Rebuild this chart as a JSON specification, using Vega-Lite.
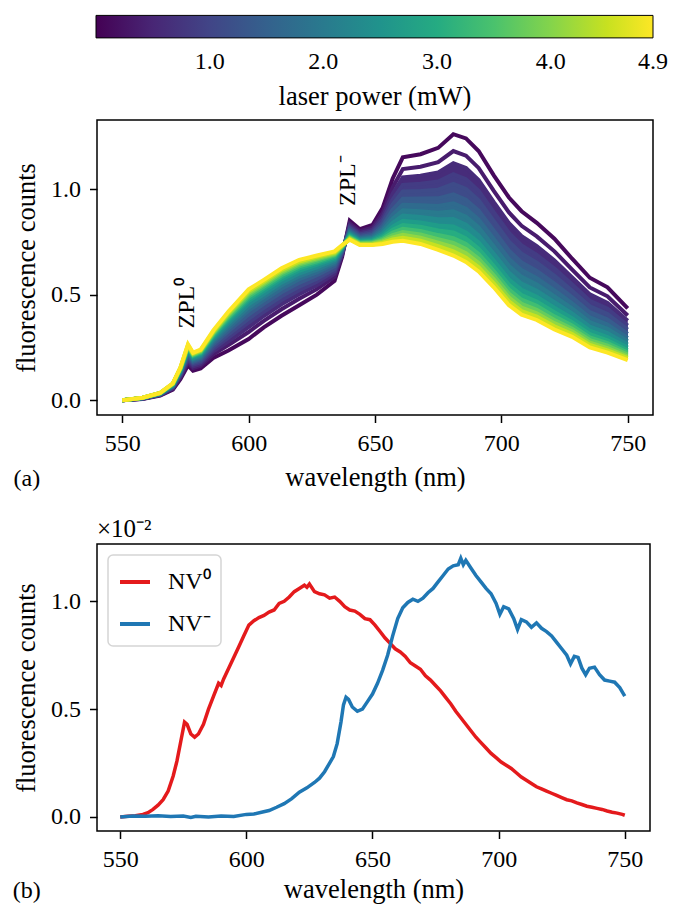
{
"$schema": "https://vega.github.io/schema/vega-lite/v6.json",
"background": "white",
"padding": {"left": 12, "top": 14, "right": 12, "bottom": 0},
"spacing": 24,
"title": {"text": "(b)", "orient": "bottom", "anchor": "start", "frame": "bounds", "offset": -25},
"resolve": {"scale": {"x": "independent", "y": "independent", "color": "independent", "fill": "independent", "stroke": "independent"}},
"vconcat": [
{
"width": 556, "height": 295,
"title": {"text": "(a)", "orient": "bottom", "anchor": "start", "frame": "bounds", "offset": -24},
"data": {"values": [
{"p":0.1,"w":550,"v":0},{"p":0.1,"w":558,"v":0.006},{"p":0.1,"w":565,"v":0.022},{"p":0.1,"w":570,"v":0.05},{"p":0.1,"w":573,"v":0.1},{"p":0.1,"w":576,"v":0.165},{"p":0.1,"w":578,"v":0.14},{"p":0.1,"w":581,"v":0.15},{"p":0.1,"w":586,"v":0.2},{"p":0.1,"w":592,"v":0.235},{"p":0.1,"w":600,"v":0.29},{"p":0.1,"w":606,"v":0.345},{"p":0.1,"w":613,"v":0.4},{"p":0.1,"w":620,"v":0.45},{"p":0.1,"w":627,"v":0.5},{"p":0.1,"w":634,"v":0.565},{"p":0.1,"w":637,"v":0.68},{"p":0.1,"w":640,"v":0.85},{"p":0.1,"w":644,"v":0.81},{"p":0.1,"w":649,"v":0.83},{"p":0.1,"w":653,"v":0.91},{"p":0.1,"w":657,"v":1.05},{"p":0.1,"w":661,"v":1.15},{"p":0.1,"w":668,"v":1.165},{"p":0.1,"w":675,"v":1.195},{"p":0.1,"w":681,"v":1.26},{"p":0.1,"w":686,"v":1.24},{"p":0.1,"w":691,"v":1.18},{"p":0.1,"w":697,"v":1.065},{"p":0.1,"w":703,"v":0.96},{"p":0.1,"w":708,"v":0.895},{"p":0.1,"w":714,"v":0.84},{"p":0.1,"w":721,"v":0.765},{"p":0.1,"w":728,"v":0.67},{"p":0.1,"w":735,"v":0.58},{"p":0.1,"w":742,"v":0.535},{"p":0.1,"w":750,"v":0.435},
{"p":0.35,"w":550,"v":0},{"p":0.35,"w":558,"v":0.007},{"p":0.35,"w":565,"v":0.024},{"p":0.35,"w":570,"v":0.054},{"p":0.35,"w":573,"v":0.108},{"p":0.35,"w":576,"v":0.179},{"p":0.35,"w":578,"v":0.152},{"p":0.35,"w":581,"v":0.163},{"p":0.35,"w":586,"v":0.218},{"p":0.35,"w":592,"v":0.261},{"p":0.35,"w":600,"v":0.323},{"p":0.35,"w":606,"v":0.376},{"p":0.35,"w":613,"v":0.431},{"p":0.35,"w":620,"v":0.48},{"p":0.35,"w":627,"v":0.526},{"p":0.35,"w":634,"v":0.585},{"p":0.35,"w":637,"v":0.688},{"p":0.35,"w":640,"v":0.837},{"p":0.35,"w":644,"v":0.8},{"p":0.35,"w":649,"v":0.817},{"p":0.35,"w":653,"v":0.886},{"p":0.35,"w":657,"v":1.008},{"p":0.35,"w":661,"v":1.095},{"p":0.35,"w":668,"v":1.106},{"p":0.35,"w":675,"v":1.127},{"p":0.35,"w":681,"v":1.18},{"p":0.35,"w":686,"v":1.158},{"p":0.35,"w":691,"v":1.1},{"p":0.35,"w":697,"v":0.991},{"p":0.35,"w":703,"v":0.889},{"p":0.35,"w":708,"v":0.826},{"p":0.35,"w":714,"v":0.776},{"p":0.35,"w":721,"v":0.705},{"p":0.35,"w":728,"v":0.618},{"p":0.35,"w":735,"v":0.534},{"p":0.35,"w":742,"v":0.492},{"p":0.35,"w":750,"v":0.401},
{"p":0.6,"w":550,"v":0},{"p":0.6,"w":558,"v":0.007},{"p":0.6,"w":565,"v":0.025},{"p":0.6,"w":570,"v":0.057},{"p":0.6,"w":573,"v":0.113},{"p":0.6,"w":576,"v":0.189},{"p":0.6,"w":578,"v":0.16},{"p":0.6,"w":581,"v":0.172},{"p":0.6,"w":586,"v":0.231},{"p":0.6,"w":592,"v":0.279},{"p":0.6,"w":600,"v":0.346},{"p":0.6,"w":606,"v":0.399},{"p":0.6,"w":613,"v":0.454},{"p":0.6,"w":620,"v":0.502},{"p":0.6,"w":627,"v":0.544},{"p":0.6,"w":634,"v":0.599},{"p":0.6,"w":637,"v":0.693},{"p":0.6,"w":640,"v":0.828},{"p":0.6,"w":644,"v":0.792},{"p":0.6,"w":649,"v":0.807},{"p":0.6,"w":653,"v":0.869},{"p":0.6,"w":657,"v":0.978},{"p":0.6,"w":661,"v":1.055},{"p":0.6,"w":668,"v":1.063},{"p":0.6,"w":675,"v":1.079},{"p":0.6,"w":681,"v":1.122},{"p":0.6,"w":686,"v":1.1},{"p":0.6,"w":691,"v":1.043},{"p":0.6,"w":697,"v":0.938},{"p":0.6,"w":703,"v":0.838},{"p":0.6,"w":708,"v":0.777},{"p":0.6,"w":714,"v":0.73},{"p":0.6,"w":721,"v":0.662},{"p":0.6,"w":728,"v":0.581},{"p":0.6,"w":735,"v":0.501},{"p":0.6,"w":742,"v":0.461},{"p":0.6,"w":750,"v":0.376},
{"p":0.85,"w":550,"v":0},{"p":0.85,"w":558,"v":0.008},{"p":0.85,"w":565,"v":0.026},{"p":0.85,"w":570,"v":0.06},{"p":0.85,"w":573,"v":0.118},{"p":0.85,"w":576,"v":0.198},{"p":0.85,"w":578,"v":0.168},{"p":0.85,"w":581,"v":0.18},{"p":0.85,"w":586,"v":0.243},{"p":0.85,"w":592,"v":0.296},{"p":0.85,"w":600,"v":0.368},{"p":0.85,"w":606,"v":0.419},{"p":0.85,"w":613,"v":0.474},{"p":0.85,"w":620,"v":0.521},{"p":0.85,"w":627,"v":0.561},{"p":0.85,"w":634,"v":0.611},{"p":0.85,"w":637,"v":0.698},{"p":0.85,"w":640,"v":0.82},{"p":0.85,"w":644,"v":0.785},{"p":0.85,"w":649,"v":0.799},{"p":0.85,"w":653,"v":0.854},{"p":0.85,"w":657,"v":0.951},{"p":0.85,"w":661,"v":1.02},{"p":0.85,"w":668,"v":1.025},{"p":0.85,"w":675,"v":1.036},{"p":0.85,"w":681,"v":1.07},{"p":0.85,"w":686,"v":1.047},{"p":0.85,"w":691,"v":0.992},{"p":0.85,"w":697,"v":0.89},{"p":0.85,"w":703,"v":0.792},{"p":0.85,"w":708,"v":0.733},{"p":0.85,"w":714,"v":0.688},{"p":0.85,"w":721,"v":0.623},{"p":0.85,"w":728,"v":0.548},{"p":0.85,"w":735,"v":0.471},{"p":0.85,"w":742,"v":0.433},{"p":0.85,"w":750,"v":0.354},
{"p":1.1,"w":550,"v":0},{"p":1.1,"w":558,"v":0.008},{"p":1.1,"w":565,"v":0.027},{"p":1.1,"w":570,"v":0.062},{"p":1.1,"w":573,"v":0.123},{"p":1.1,"w":576,"v":0.206},{"p":1.1,"w":578,"v":0.175},{"p":1.1,"w":581,"v":0.187},{"p":1.1,"w":586,"v":0.253},{"p":1.1,"w":592,"v":0.311},{"p":1.1,"w":600,"v":0.386},{"p":1.1,"w":606,"v":0.437},{"p":1.1,"w":613,"v":0.492},{"p":1.1,"w":620,"v":0.538},{"p":1.1,"w":627,"v":0.576},{"p":1.1,"w":634,"v":0.622},{"p":1.1,"w":637,"v":0.703},{"p":1.1,"w":640,"v":0.813},{"p":1.1,"w":644,"v":0.779},{"p":1.1,"w":649,"v":0.791},{"p":1.1,"w":653,"v":0.84},{"p":1.1,"w":657,"v":0.927},{"p":1.1,"w":661,"v":0.988},{"p":1.1,"w":668,"v":0.991},{"p":1.1,"w":675,"v":0.997},{"p":1.1,"w":681,"v":1.024},{"p":1.1,"w":686,"v":1.0},{"p":1.1,"w":691,"v":0.946},{"p":1.1,"w":697,"v":0.848},{"p":1.1,"w":703,"v":0.751},{"p":1.1,"w":708,"v":0.694},{"p":1.1,"w":714,"v":0.651},{"p":1.1,"w":721,"v":0.589},{"p":1.1,"w":728,"v":0.518},{"p":1.1,"w":735,"v":0.445},{"p":1.1,"w":742,"v":0.408},{"p":1.1,"w":750,"v":0.335},
{"p":1.4,"w":550,"v":0},{"p":1.4,"w":558,"v":0.009},{"p":1.4,"w":565,"v":0.028},{"p":1.4,"w":570,"v":0.065},{"p":1.4,"w":573,"v":0.127},{"p":1.4,"w":576,"v":0.214},{"p":1.4,"w":578,"v":0.182},{"p":1.4,"w":581,"v":0.195},{"p":1.4,"w":586,"v":0.264},{"p":1.4,"w":592,"v":0.327},{"p":1.4,"w":600,"v":0.406},{"p":1.4,"w":606,"v":0.456},{"p":1.4,"w":613,"v":0.511},{"p":1.4,"w":620,"v":0.556},{"p":1.4,"w":627,"v":0.592},{"p":1.4,"w":634,"v":0.634},{"p":1.4,"w":637,"v":0.707},{"p":1.4,"w":640,"v":0.805},{"p":1.4,"w":644,"v":0.773},{"p":1.4,"w":649,"v":0.783},{"p":1.4,"w":653,"v":0.826},{"p":1.4,"w":657,"v":0.902},{"p":1.4,"w":661,"v":0.954},{"p":1.4,"w":668,"v":0.955},{"p":1.4,"w":675,"v":0.956},{"p":1.4,"w":681,"v":0.975},{"p":1.4,"w":686,"v":0.95},{"p":1.4,"w":691,"v":0.898},{"p":1.4,"w":697,"v":0.803},{"p":1.4,"w":703,"v":0.708},{"p":1.4,"w":708,"v":0.652},{"p":1.4,"w":714,"v":0.612},{"p":1.4,"w":721,"v":0.552},{"p":1.4,"w":728,"v":0.487},{"p":1.4,"w":735,"v":0.417},{"p":1.4,"w":742,"v":0.382},{"p":1.4,"w":750,"v":0.314},
{"p":1.7,"w":550,"v":0},{"p":1.7,"w":558,"v":0.009},{"p":1.7,"w":565,"v":0.029},{"p":1.7,"w":570,"v":0.067},{"p":1.7,"w":573,"v":0.131},{"p":1.7,"w":576,"v":0.222},{"p":1.7,"w":578,"v":0.188},{"p":1.7,"w":581,"v":0.201},{"p":1.7,"w":586,"v":0.274},{"p":1.7,"w":592,"v":0.34},{"p":1.7,"w":600,"v":0.424},{"p":1.7,"w":606,"v":0.473},{"p":1.7,"w":613,"v":0.528},{"p":1.7,"w":620,"v":0.573},{"p":1.7,"w":627,"v":0.605},{"p":1.7,"w":634,"v":0.645},{"p":1.7,"w":637,"v":0.711},{"p":1.7,"w":640,"v":0.799},{"p":1.7,"w":644,"v":0.767},{"p":1.7,"w":649,"v":0.776},{"p":1.7,"w":653,"v":0.813},{"p":1.7,"w":657,"v":0.879},{"p":1.7,"w":661,"v":0.925},{"p":1.7,"w":668,"v":0.923},{"p":1.7,"w":675,"v":0.92},{"p":1.7,"w":681,"v":0.932},{"p":1.7,"w":686,"v":0.907},{"p":1.7,"w":691,"v":0.855},{"p":1.7,"w":697,"v":0.763},{"p":1.7,"w":703,"v":0.669},{"p":1.7,"w":708,"v":0.616},{"p":1.7,"w":714,"v":0.578},{"p":1.7,"w":721,"v":0.52},{"p":1.7,"w":728,"v":0.459},{"p":1.7,"w":735,"v":0.392},{"p":1.7,"w":742,"v":0.358},{"p":1.7,"w":750,"v":0.295},
{"p":2.0,"w":550,"v":0},{"p":2.0,"w":558,"v":0.01},{"p":2.0,"w":565,"v":0.03},{"p":2.0,"w":570,"v":0.069},{"p":2.0,"w":573,"v":0.135},{"p":2.0,"w":576,"v":0.228},{"p":2.0,"w":578,"v":0.194},{"p":2.0,"w":581,"v":0.207},{"p":2.0,"w":586,"v":0.283},{"p":2.0,"w":592,"v":0.352},{"p":2.0,"w":600,"v":0.439},{"p":2.0,"w":606,"v":0.488},{"p":2.0,"w":613,"v":0.543},{"p":2.0,"w":620,"v":0.587},{"p":2.0,"w":627,"v":0.617},{"p":2.0,"w":634,"v":0.654},{"p":2.0,"w":637,"v":0.715},{"p":2.0,"w":640,"v":0.793},{"p":2.0,"w":644,"v":0.762},{"p":2.0,"w":649,"v":0.77},{"p":2.0,"w":653,"v":0.802},{"p":2.0,"w":657,"v":0.86},{"p":2.0,"w":661,"v":0.899},{"p":2.0,"w":668,"v":0.895},{"p":2.0,"w":675,"v":0.888},{"p":2.0,"w":681,"v":0.895},{"p":2.0,"w":686,"v":0.869},{"p":2.0,"w":691,"v":0.818},{"p":2.0,"w":697,"v":0.728},{"p":2.0,"w":703,"v":0.636},{"p":2.0,"w":708,"v":0.584},{"p":2.0,"w":714,"v":0.548},{"p":2.0,"w":721,"v":0.492},{"p":2.0,"w":728,"v":0.435},{"p":2.0,"w":735,"v":0.37},{"p":2.0,"w":742,"v":0.338},{"p":2.0,"w":750,"v":0.279},
{"p":2.35,"w":550,"v":0},{"p":2.35,"w":558,"v":0.01},{"p":2.35,"w":565,"v":0.031},{"p":2.35,"w":570,"v":0.071},{"p":2.35,"w":573,"v":0.138},{"p":2.35,"w":576,"v":0.235},{"p":2.35,"w":578,"v":0.199},{"p":2.35,"w":581,"v":0.213},{"p":2.35,"w":586,"v":0.291},{"p":2.35,"w":592,"v":0.364},{"p":2.35,"w":600,"v":0.454},{"p":2.35,"w":606,"v":0.502},{"p":2.35,"w":613,"v":0.557},{"p":2.35,"w":620,"v":0.6},{"p":2.35,"w":627,"v":0.629},{"p":2.35,"w":634,"v":0.663},{"p":2.35,"w":637,"v":0.718},{"p":2.35,"w":640,"v":0.787},{"p":2.35,"w":644,"v":0.758},{"p":2.35,"w":649,"v":0.764},{"p":2.35,"w":653,"v":0.791},{"p":2.35,"w":657,"v":0.84},{"p":2.35,"w":661,"v":0.874},{"p":2.35,"w":668,"v":0.868},{"p":2.35,"w":675,"v":0.857},{"p":2.35,"w":681,"v":0.858},{"p":2.35,"w":686,"v":0.831},{"p":2.35,"w":691,"v":0.781},{"p":2.35,"w":697,"v":0.694},{"p":2.35,"w":703,"v":0.603},{"p":2.35,"w":708,"v":0.552},{"p":2.35,"w":714,"v":0.518},{"p":2.35,"w":721,"v":0.464},{"p":2.35,"w":728,"v":0.411},{"p":2.35,"w":735,"v":0.349},{"p":2.35,"w":742,"v":0.318},{"p":2.35,"w":750,"v":0.264},
{"p":2.7,"w":550,"v":0},{"p":2.7,"w":558,"v":0.011},{"p":2.7,"w":565,"v":0.032},{"p":2.7,"w":570,"v":0.073},{"p":2.7,"w":573,"v":0.142},{"p":2.7,"w":576,"v":0.241},{"p":2.7,"w":578,"v":0.205},{"p":2.7,"w":581,"v":0.218},{"p":2.7,"w":586,"v":0.299},{"p":2.7,"w":592,"v":0.376},{"p":2.7,"w":600,"v":0.469},{"p":2.7,"w":606,"v":0.516},{"p":2.7,"w":613,"v":0.571},{"p":2.7,"w":620,"v":0.613},{"p":2.7,"w":627,"v":0.641},{"p":2.7,"w":634,"v":0.671},{"p":2.7,"w":637,"v":0.722},{"p":2.7,"w":640,"v":0.782},{"p":2.7,"w":644,"v":0.753},{"p":2.7,"w":649,"v":0.758},{"p":2.7,"w":653,"v":0.781},{"p":2.7,"w":657,"v":0.822},{"p":2.7,"w":661,"v":0.85},{"p":2.7,"w":668,"v":0.842},{"p":2.7,"w":675,"v":0.828},{"p":2.7,"w":681,"v":0.823},{"p":2.7,"w":686,"v":0.795},{"p":2.7,"w":691,"v":0.747},{"p":2.7,"w":697,"v":0.662},{"p":2.7,"w":703,"v":0.572},{"p":2.7,"w":708,"v":0.523},{"p":2.7,"w":714,"v":0.49},{"p":2.7,"w":721,"v":0.438},{"p":2.7,"w":728,"v":0.389},{"p":2.7,"w":735,"v":0.329},{"p":2.7,"w":742,"v":0.299},{"p":2.7,"w":750,"v":0.249},
{"p":3.05,"w":550,"v":0},{"p":3.05,"w":558,"v":0.011},{"p":3.05,"w":565,"v":0.033},{"p":3.05,"w":570,"v":0.074},{"p":3.05,"w":573,"v":0.145},{"p":3.05,"w":576,"v":0.246},{"p":3.05,"w":578,"v":0.209},{"p":3.05,"w":581,"v":0.223},{"p":3.05,"w":586,"v":0.305},{"p":3.05,"w":592,"v":0.385},{"p":3.05,"w":600,"v":0.48},{"p":3.05,"w":606,"v":0.527},{"p":3.05,"w":613,"v":0.582},{"p":3.05,"w":620,"v":0.624},{"p":3.05,"w":627,"v":0.65},{"p":3.05,"w":634,"v":0.678},{"p":3.05,"w":637,"v":0.725},{"p":3.05,"w":640,"v":0.777},{"p":3.05,"w":644,"v":0.749},{"p":3.05,"w":649,"v":0.753},{"p":3.05,"w":653,"v":0.772},{"p":3.05,"w":657,"v":0.807},{"p":3.05,"w":661,"v":0.83},{"p":3.05,"w":668,"v":0.821},{"p":3.05,"w":675,"v":0.804},{"p":3.05,"w":681,"v":0.794},{"p":3.05,"w":686,"v":0.766},{"p":3.05,"w":691,"v":0.718},{"p":3.05,"w":697,"v":0.636},{"p":3.05,"w":703,"v":0.547},{"p":3.05,"w":708,"v":0.498},{"p":3.05,"w":714,"v":0.467},{"p":3.05,"w":721,"v":0.417},{"p":3.05,"w":728,"v":0.37},{"p":3.05,"w":735,"v":0.313},{"p":3.05,"w":742,"v":0.284},{"p":3.05,"w":750,"v":0.237},
{"p":3.4,"w":550,"v":0},{"p":3.4,"w":558,"v":0.011},{"p":3.4,"w":565,"v":0.033},{"p":3.4,"w":570,"v":0.076},{"p":3.4,"w":573,"v":0.147},{"p":3.4,"w":576,"v":0.25},{"p":3.4,"w":578,"v":0.213},{"p":3.4,"w":581,"v":0.227},{"p":3.4,"w":586,"v":0.311},{"p":3.4,"w":592,"v":0.393},{"p":3.4,"w":600,"v":0.491},{"p":3.4,"w":606,"v":0.537},{"p":3.4,"w":613,"v":0.592},{"p":3.4,"w":620,"v":0.634},{"p":3.4,"w":627,"v":0.658},{"p":3.4,"w":634,"v":0.685},{"p":3.4,"w":637,"v":0.727},{"p":3.4,"w":640,"v":0.773},{"p":3.4,"w":644,"v":0.746},{"p":3.4,"w":649,"v":0.749},{"p":3.4,"w":653,"v":0.765},{"p":3.4,"w":657,"v":0.794},{"p":3.4,"w":661,"v":0.812},{"p":3.4,"w":668,"v":0.802},{"p":3.4,"w":675,"v":0.782},{"p":3.4,"w":681,"v":0.768},{"p":3.4,"w":686,"v":0.74},{"p":3.4,"w":691,"v":0.693},{"p":3.4,"w":697,"v":0.612},{"p":3.4,"w":703,"v":0.524},{"p":3.4,"w":708,"v":0.476},{"p":3.4,"w":714,"v":0.447},{"p":3.4,"w":721,"v":0.397},{"p":3.4,"w":728,"v":0.354},{"p":3.4,"w":735,"v":0.298},{"p":3.4,"w":742,"v":0.27},{"p":3.4,"w":750,"v":0.226},
{"p":3.75,"w":550,"v":0},{"p":3.75,"w":558,"v":0.011},{"p":3.75,"w":565,"v":0.034},{"p":3.75,"w":570,"v":0.077},{"p":3.75,"w":573,"v":0.149},{"p":3.75,"w":576,"v":0.254},{"p":3.75,"w":578,"v":0.216},{"p":3.75,"w":581,"v":0.231},{"p":3.75,"w":586,"v":0.316},{"p":3.75,"w":592,"v":0.401},{"p":3.75,"w":600,"v":0.5},{"p":3.75,"w":606,"v":0.546},{"p":3.75,"w":613,"v":0.601},{"p":3.75,"w":620,"v":0.642},{"p":3.75,"w":627,"v":0.666},{"p":3.75,"w":634,"v":0.69},{"p":3.75,"w":637,"v":0.729},{"p":3.75,"w":640,"v":0.769},{"p":3.75,"w":644,"v":0.743},{"p":3.75,"w":649,"v":0.745},{"p":3.75,"w":653,"v":0.758},{"p":3.75,"w":657,"v":0.782},{"p":3.75,"w":661,"v":0.796},{"p":3.75,"w":668,"v":0.785},{"p":3.75,"w":675,"v":0.763},{"p":3.75,"w":681,"v":0.745},{"p":3.75,"w":686,"v":0.716},{"p":3.75,"w":691,"v":0.67},{"p":3.75,"w":697,"v":0.591},{"p":3.75,"w":703,"v":0.504},{"p":3.75,"w":708,"v":0.456},{"p":3.75,"w":714,"v":0.428},{"p":3.75,"w":721,"v":0.38},{"p":3.75,"w":728,"v":0.339},{"p":3.75,"w":735,"v":0.285},{"p":3.75,"w":742,"v":0.258},{"p":3.75,"w":750,"v":0.216},
{"p":4.1,"w":550,"v":0},{"p":4.1,"w":558,"v":0.012},{"p":4.1,"w":565,"v":0.034},{"p":4.1,"w":570,"v":0.078},{"p":4.1,"w":573,"v":0.151},{"p":4.1,"w":576,"v":0.258},{"p":4.1,"w":578,"v":0.219},{"p":4.1,"w":581,"v":0.234},{"p":4.1,"w":586,"v":0.321},{"p":4.1,"w":592,"v":0.407},{"p":4.1,"w":600,"v":0.509},{"p":4.1,"w":606,"v":0.554},{"p":4.1,"w":613,"v":0.609},{"p":4.1,"w":620,"v":0.65},{"p":4.1,"w":627,"v":0.672},{"p":4.1,"w":634,"v":0.695},{"p":4.1,"w":637,"v":0.731},{"p":4.1,"w":640,"v":0.766},{"p":4.1,"w":644,"v":0.74},{"p":4.1,"w":649,"v":0.742},{"p":4.1,"w":653,"v":0.752},{"p":4.1,"w":657,"v":0.771},{"p":4.1,"w":661,"v":0.783},{"p":4.1,"w":668,"v":0.77},{"p":4.1,"w":675,"v":0.746},{"p":4.1,"w":681,"v":0.725},{"p":4.1,"w":686,"v":0.696},{"p":4.1,"w":691,"v":0.65},{"p":4.1,"w":697,"v":0.572},{"p":4.1,"w":703,"v":0.486},{"p":4.1,"w":708,"v":0.439},{"p":4.1,"w":714,"v":0.412},{"p":4.1,"w":721,"v":0.365},{"p":4.1,"w":728,"v":0.326},{"p":4.1,"w":735,"v":0.273},{"p":4.1,"w":742,"v":0.247},{"p":4.1,"w":750,"v":0.207},
{"p":4.5,"w":550,"v":0},{"p":4.5,"w":558,"v":0.012},{"p":4.5,"w":565,"v":0.035},{"p":4.5,"w":570,"v":0.079},{"p":4.5,"w":573,"v":0.153},{"p":4.5,"w":576,"v":0.261},{"p":4.5,"w":578,"v":0.222},{"p":4.5,"w":581,"v":0.237},{"p":4.5,"w":586,"v":0.325},{"p":4.5,"w":592,"v":0.414},{"p":4.5,"w":600,"v":0.517},{"p":4.5,"w":606,"v":0.562},{"p":4.5,"w":613,"v":0.617},{"p":4.5,"w":620,"v":0.657},{"p":4.5,"w":627,"v":0.679},{"p":4.5,"w":634,"v":0.7},{"p":4.5,"w":637,"v":0.733},{"p":4.5,"w":640,"v":0.763},{"p":4.5,"w":644,"v":0.738},{"p":4.5,"w":649,"v":0.738},{"p":4.5,"w":653,"v":0.746},{"p":4.5,"w":657,"v":0.761},{"p":4.5,"w":661,"v":0.769},{"p":4.5,"w":668,"v":0.755},{"p":4.5,"w":675,"v":0.729},{"p":4.5,"w":681,"v":0.705},{"p":4.5,"w":686,"v":0.675},{"p":4.5,"w":691,"v":0.63},{"p":4.5,"w":697,"v":0.554},{"p":4.5,"w":703,"v":0.468},{"p":4.5,"w":708,"v":0.422},{"p":4.5,"w":714,"v":0.396},{"p":4.5,"w":721,"v":0.35},{"p":4.5,"w":728,"v":0.313},{"p":4.5,"w":735,"v":0.262},{"p":4.5,"w":742,"v":0.236},{"p":4.5,"w":750,"v":0.199},
{"p":4.9,"w":550,"v":0},{"p":4.9,"w":558,"v":0.012},{"p":4.9,"w":565,"v":0.035},{"p":4.9,"w":570,"v":0.08},{"p":4.9,"w":573,"v":0.155},{"p":4.9,"w":576,"v":0.265},{"p":4.9,"w":578,"v":0.225},{"p":4.9,"w":581,"v":0.24},{"p":4.9,"w":586,"v":0.33},{"p":4.9,"w":592,"v":0.42},{"p":4.9,"w":600,"v":0.525},{"p":4.9,"w":606,"v":0.57},{"p":4.9,"w":613,"v":0.625},{"p":4.9,"w":620,"v":0.665},{"p":4.9,"w":627,"v":0.685},{"p":4.9,"w":634,"v":0.705},{"p":4.9,"w":637,"v":0.735},{"p":4.9,"w":640,"v":0.76},{"p":4.9,"w":644,"v":0.735},{"p":4.9,"w":649,"v":0.735},{"p":4.9,"w":653,"v":0.74},{"p":4.9,"w":657,"v":0.75},{"p":4.9,"w":661,"v":0.755},{"p":4.9,"w":668,"v":0.74},{"p":4.9,"w":675,"v":0.712},{"p":4.9,"w":681,"v":0.685},{"p":4.9,"w":686,"v":0.655},{"p":4.9,"w":691,"v":0.61},{"p":4.9,"w":697,"v":0.535},{"p":4.9,"w":703,"v":0.45},{"p":4.9,"w":708,"v":0.405},{"p":4.9,"w":714,"v":0.38},{"p":4.9,"w":721,"v":0.335},{"p":4.9,"w":728,"v":0.3},{"p":4.9,"w":735,"v":0.25},{"p":4.9,"w":742,"v":0.225},{"p":4.9,"w":750,"v":0.19}
]},
"layer": [
{
"transform": [{"joinaggregate": [{"op": "argmax", "field": "p", "as": "top"}], "groupby": ["w"]}, {"filter": "datum.p > 0.5"}],
"mark": {"type": "area", "clip": true},
"encoding": {
"x": {"field": "w", "type": "quantitative", "scale": {"domain": [540, 760], "nice": false, "zero": false}, "axis": {"values": [550, 600, 650, 700, 750], "format": "d"}, "title": "wavelength (nm)"},
"y": {"field": "v", "type": "quantitative", "stack": null, "scale": {"domain": [-0.07, 1.327], "nice": false, "zero": false}, "axis": {"values": [0, 0.5, 1], "format": ".1f"}, "title": "fluorescence counts"},
"y2": {"field": "top.v"},
"fill": {"field": "p", "type": "quantitative", "scale": {"scheme": "viridis", "domain": [0, 4.9]},
 "legend": {"type": "gradient", "orient": "none", "legendX": -1, "legendY": -104.6, "direction": "horizontal", "gradientLength": 557, "gradientThickness": 22.5, "gradientStrokeColor": "black", "gradientStrokeWidth": 1, "values": [1, 2, 3, 4, 4.9], "format": ".1f", "labelFont": "Liberation Serif", "labelFontSize": 24, "labelColor": "black", "labelAlign": "center", "labelOffset": 12, "labelOverlap": false, "title": "laser power (mW)", "titleLimit": 800, "titleOrient": "bottom", "titleAnchor": "middle", "titleFont": "Liberation Serif", "titleFontSize": 26.5, "titleFontWeight": "normal", "titleColor": "black", "titlePadding": 10, "padding": 0,
  "encode": {"labels": {"update": {"align": {"value": "center"}}}}}},
"detail": {"field": "p", "type": "nominal"}
}
},
{
"mark": {"type": "line", "strokeWidth": 4, "clip": true},
"encoding": {
"x": {"field": "w", "type": "quantitative"},
"y": {"field": "v", "type": "quantitative"},
"stroke": {"field": "p", "type": "quantitative", "scale": {"scheme": "viridis", "domain": [0, 4.9001]}, "legend": null},
"detail": {"field": "p", "type": "nominal"}
}
},
{
"data": {"values": [{"w": 575.5, "v": 0.46, "t": "ZPL\u2070"}, {"w": 639.5, "v": 1.04, "t": "ZPL\u207b"}]},
"mark": {"type": "text", "angle": 270, "fontSize": 24, "font": "Liberation Serif", "color": "black", "align": "center", "baseline": "middle"},
"encoding": {
"x": {"field": "w", "type": "quantitative"},
"y": {"field": "v", "type": "quantitative"},
"text": {"field": "t"}
}
}
]
},
{
"width": 553, "height": 287,
"title": {"text": "\u00d710\u207b\u00b2", "orient": "top", "anchor": "start", "frame": "group", "offset": 2, "fontSize": 25},
"data": {"values": [
{"s":"NV\u2070","w":550,"v":0},{"s":"NV\u2070","w":553,"v":0.003},{"s":"NV\u2070","w":556,"v":0.006},{"s":"NV\u2070","w":559,"v":0.012},{"s":"NV\u2070","w":561,"v":0.02},{"s":"NV\u2070","w":563,"v":0.035},{"s":"NV\u2070","w":565,"v":0.055},{"s":"NV\u2070","w":567,"v":0.08},{"s":"NV\u2070","w":569,"v":0.12},{"s":"NV\u2070","w":571,"v":0.19},{"s":"NV\u2070","w":572.5,"v":0.26},{"s":"NV\u2070","w":574,"v":0.35},{"s":"NV\u2070","w":575.5,"v":0.44},{"s":"NV\u2070","w":576.5,"v":0.43},{"s":"NV\u2070","w":578,"v":0.385},{"s":"NV\u2070","w":579.5,"v":0.37},{"s":"NV\u2070","w":581,"v":0.385},{"s":"NV\u2070","w":583,"v":0.43},{"s":"NV\u2070","w":585,"v":0.5},{"s":"NV\u2070","w":587,"v":0.56},{"s":"NV\u2070","w":589,"v":0.62},{"s":"NV\u2070","w":590,"v":0.61},{"s":"NV\u2070","w":591,"v":0.64},{"s":"NV\u2070","w":593,"v":0.69},{"s":"NV\u2070","w":595,"v":0.74},{"s":"NV\u2070","w":597,"v":0.79},{"s":"NV\u2070","w":599,"v":0.84},{"s":"NV\u2070","w":601,"v":0.89},{"s":"NV\u2070","w":603,"v":0.91},{"s":"NV\u2070","w":605,"v":0.925},{"s":"NV\u2070","w":607,"v":0.935},{"s":"NV\u2070","w":609,"v":0.95},{"s":"NV\u2070","w":611,"v":0.96},{"s":"NV\u2070","w":613,"v":0.99},{"s":"NV\u2070","w":615,"v":1.0},{"s":"NV\u2070","w":617,"v":1.02},{"s":"NV\u2070","w":619,"v":1.045},{"s":"NV\u2070","w":621,"v":1.06},{"s":"NV\u2070","w":623,"v":1.075},{"s":"NV\u2070","w":624,"v":1.065},{"s":"NV\u2070","w":625,"v":1.08},{"s":"NV\u2070","w":627,"v":1.045},{"s":"NV\u2070","w":629,"v":1.035},{"s":"NV\u2070","w":631,"v":1.03},{"s":"NV\u2070","w":633,"v":1.015},{"s":"NV\u2070","w":635,"v":1.02},{"s":"NV\u2070","w":637,"v":1.0},{"s":"NV\u2070","w":639,"v":0.975},{"s":"NV\u2070","w":641,"v":0.96},{"s":"NV\u2070","w":643,"v":0.955},{"s":"NV\u2070","w":645,"v":0.94},{"s":"NV\u2070","w":647,"v":0.92},{"s":"NV\u2070","w":649,"v":0.915},{"s":"NV\u2070","w":651,"v":0.89},{"s":"NV\u2070","w":653,"v":0.86},{"s":"NV\u2070","w":655,"v":0.83},{"s":"NV\u2070","w":657,"v":0.805},{"s":"NV\u2070","w":659,"v":0.78},{"s":"NV\u2070","w":661,"v":0.765},{"s":"NV\u2070","w":663,"v":0.745},{"s":"NV\u2070","w":665,"v":0.715},{"s":"NV\u2070","w":667,"v":0.7},{"s":"NV\u2070","w":669,"v":0.685},{"s":"NV\u2070","w":671,"v":0.655},{"s":"NV\u2070","w":673,"v":0.635},{"s":"NV\u2070","w":675,"v":0.61},{"s":"NV\u2070","w":677,"v":0.585},{"s":"NV\u2070","w":679,"v":0.555},{"s":"NV\u2070","w":681,"v":0.525},{"s":"NV\u2070","w":683,"v":0.49},{"s":"NV\u2070","w":685,"v":0.46},{"s":"NV\u2070","w":687,"v":0.43},{"s":"NV\u2070","w":689,"v":0.4},{"s":"NV\u2070","w":691,"v":0.37},{"s":"NV\u2070","w":693,"v":0.345},{"s":"NV\u2070","w":695,"v":0.32},{"s":"NV\u2070","w":697,"v":0.295},{"s":"NV\u2070","w":699,"v":0.275},{"s":"NV\u2070","w":701,"v":0.255},{"s":"NV\u2070","w":703,"v":0.24},{"s":"NV\u2070","w":705,"v":0.225},{"s":"NV\u2070","w":707,"v":0.205},{"s":"NV\u2070","w":709,"v":0.185},{"s":"NV\u2070","w":711,"v":0.17},{"s":"NV\u2070","w":713,"v":0.155},{"s":"NV\u2070","w":715,"v":0.14},{"s":"NV\u2070","w":717,"v":0.13},{"s":"NV\u2070","w":719,"v":0.12},{"s":"NV\u2070","w":721,"v":0.11},{"s":"NV\u2070","w":723,"v":0.1},{"s":"NV\u2070","w":725,"v":0.09},{"s":"NV\u2070","w":727,"v":0.08},{"s":"NV\u2070","w":729,"v":0.075},{"s":"NV\u2070","w":731,"v":0.065},{"s":"NV\u2070","w":733,"v":0.058},{"s":"NV\u2070","w":735,"v":0.05},{"s":"NV\u2070","w":737,"v":0.045},{"s":"NV\u2070","w":739,"v":0.04},{"s":"NV\u2070","w":741,"v":0.035},{"s":"NV\u2070","w":743,"v":0.028},{"s":"NV\u2070","w":745,"v":0.022},{"s":"NV\u2070","w":747,"v":0.018},{"s":"NV\u2070","w":749,"v":0.012},{"s":"NV\u2070","w":750,"v":0.008},
{"s":"NV\u207b","w":550,"v":0},{"s":"NV\u207b","w":555,"v":0.005},{"s":"NV\u207b","w":560,"v":0.003},{"s":"NV\u207b","w":565,"v":0.006},{"s":"NV\u207b","w":570,"v":0.002},{"s":"NV\u207b","w":575,"v":0.004},{"s":"NV\u207b","w":578,"v":-0.002},{"s":"NV\u207b","w":580,"v":0.003},{"s":"NV\u207b","w":585,"v":0},{"s":"NV\u207b","w":590,"v":0.004},{"s":"NV\u207b","w":595,"v":0.002},{"s":"NV\u207b","w":600,"v":0.012},{"s":"NV\u207b","w":603,"v":0.014},{"s":"NV\u207b","w":606,"v":0.022},{"s":"NV\u207b","w":609,"v":0.03},{"s":"NV\u207b","w":612,"v":0.045},{"s":"NV\u207b","w":615,"v":0.062},{"s":"NV\u207b","w":618,"v":0.085},{"s":"NV\u207b","w":621,"v":0.115},{"s":"NV\u207b","w":624,"v":0.135},{"s":"NV\u207b","w":627,"v":0.16},{"s":"NV\u207b","w":629,"v":0.18},{"s":"NV\u207b","w":631,"v":0.21},{"s":"NV\u207b","w":633,"v":0.25},{"s":"NV\u207b","w":634.5,"v":0.28},{"s":"NV\u207b","w":636,"v":0.34},{"s":"NV\u207b","w":637.5,"v":0.44},{"s":"NV\u207b","w":638.5,"v":0.52},{"s":"NV\u207b","w":639.5,"v":0.555},{"s":"NV\u207b","w":640.5,"v":0.545},{"s":"NV\u207b","w":642,"v":0.51},{"s":"NV\u207b","w":644,"v":0.49},{"s":"NV\u207b","w":646,"v":0.5},{"s":"NV\u207b","w":648,"v":0.535},{"s":"NV\u207b","w":650,"v":0.57},{"s":"NV\u207b","w":652,"v":0.62},{"s":"NV\u207b","w":654,"v":0.68},{"s":"NV\u207b","w":656,"v":0.75},{"s":"NV\u207b","w":658,"v":0.84},{"s":"NV\u207b","w":660,"v":0.92},{"s":"NV\u207b","w":662,"v":0.97},{"s":"NV\u207b","w":664,"v":0.995},{"s":"NV\u207b","w":666,"v":1.01},{"s":"NV\u207b","w":668,"v":1.0},{"s":"NV\u207b","w":670,"v":1.015},{"s":"NV\u207b","w":672,"v":1.04},{"s":"NV\u207b","w":674,"v":1.06},{"s":"NV\u207b","w":676,"v":1.09},{"s":"NV\u207b","w":678,"v":1.12},{"s":"NV\u207b","w":680,"v":1.15},{"s":"NV\u207b","w":682,"v":1.165},{"s":"NV\u207b","w":684,"v":1.17},{"s":"NV\u207b","w":685,"v":1.2},{"s":"NV\u207b","w":686,"v":1.17},{"s":"NV\u207b","w":687,"v":1.19},{"s":"NV\u207b","w":689,"v":1.155},{"s":"NV\u207b","w":691,"v":1.12},{"s":"NV\u207b","w":693,"v":1.09},{"s":"NV\u207b","w":695,"v":1.06},{"s":"NV\u207b","w":697,"v":1.035},{"s":"NV\u207b","w":699,"v":0.99},{"s":"NV\u207b","w":700.5,"v":0.94},{"s":"NV\u207b","w":702,"v":0.975},{"s":"NV\u207b","w":704,"v":0.965},{"s":"NV\u207b","w":706,"v":0.92},{"s":"NV\u207b","w":707.5,"v":0.87},{"s":"NV\u207b","w":709,"v":0.915},{"s":"NV\u207b","w":711,"v":0.905},{"s":"NV\u207b","w":713,"v":0.88},{"s":"NV\u207b","w":715,"v":0.9},{"s":"NV\u207b","w":717,"v":0.875},{"s":"NV\u207b","w":719,"v":0.86},{"s":"NV\u207b","w":721,"v":0.84},{"s":"NV\u207b","w":723,"v":0.81},{"s":"NV\u207b","w":725,"v":0.78},{"s":"NV\u207b","w":727,"v":0.75},{"s":"NV\u207b","w":728.5,"v":0.71},{"s":"NV\u207b","w":730,"v":0.745},{"s":"NV\u207b","w":731.5,"v":0.74},{"s":"NV\u207b","w":733,"v":0.69},{"s":"NV\u207b","w":734.5,"v":0.66},{"s":"NV\u207b","w":736,"v":0.69},{"s":"NV\u207b","w":738,"v":0.695},{"s":"NV\u207b","w":740,"v":0.66},{"s":"NV\u207b","w":742,"v":0.635},{"s":"NV\u207b","w":744,"v":0.63},{"s":"NV\u207b","w":746,"v":0.625},{"s":"NV\u207b","w":748,"v":0.6},{"s":"NV\u207b","w":750,"v":0.56}
]},
"mark": {"type": "line", "strokeWidth": 3.5, "clip": true},
"encoding": {
"x": {"field": "w", "type": "quantitative", "scale": {"domain": [540.8, 760], "nice": false, "zero": false}, "axis": {"values": [550, 600, 650, 700, 750], "format": "d", "titlePadding": 5}, "title": "wavelength (nm)"},
"y": {"field": "v", "type": "quantitative", "scale": {"domain": [-0.065, 1.266], "nice": false, "zero": false}, "axis": {"values": [0, 0.5, 1], "format": ".1f"}, "title": "fluorescence counts"},
"color": {"field": "s", "type": "nominal", "scale": {"domain": ["NV\u2070", "NV\u207b"], "range": ["#e41a1c", "#1f77b4"]},
 "legend": {"title": null, "orient": "top-left", "offset": 11, "padding": 10, "cornerRadius": 5, "strokeColor": "#d5d5d5", "fillColor": "white", "symbolType": "stroke", "symbolSize": 900, "symbolStrokeWidth": 4, "labelFont": "Liberation Serif", "labelFontSize": 24, "labelColor": "black", "labelOffset": 16, "rowPadding": 13, "labelLimit": 200,
  "encode": {"legend": {"update": {"strokeWidth": {"value": 1.5}}}}}}
}
}
],
"config": {
"font": "Liberation Serif",
"view": {"stroke": "black", "strokeWidth": 1.5},
"axis": {"domain": false, "grid": false, "ticks": true, "tickSize": 7.5, "tickWidth": 1.5, "tickColor": "black", "labelFont": "Liberation Serif", "labelFontSize": 24, "labelColor": "black", "labelPadding": 9, "titleFont": "Liberation Serif", "titleFontSize": 26.5, "titleFontWeight": "normal", "titleColor": "black", "titlePadding": 9, "labelFlush": false, "labelOverlap": false},
"axisY": {"titlePadding": 10},
"legend": {"gradientHorizontalMaxLength": 700, "gradientHorizontalMinLength": 100},
"title": {"font": "Liberation Serif", "fontSize": 24, "fontWeight": "normal", "color": "black"}
}
}
